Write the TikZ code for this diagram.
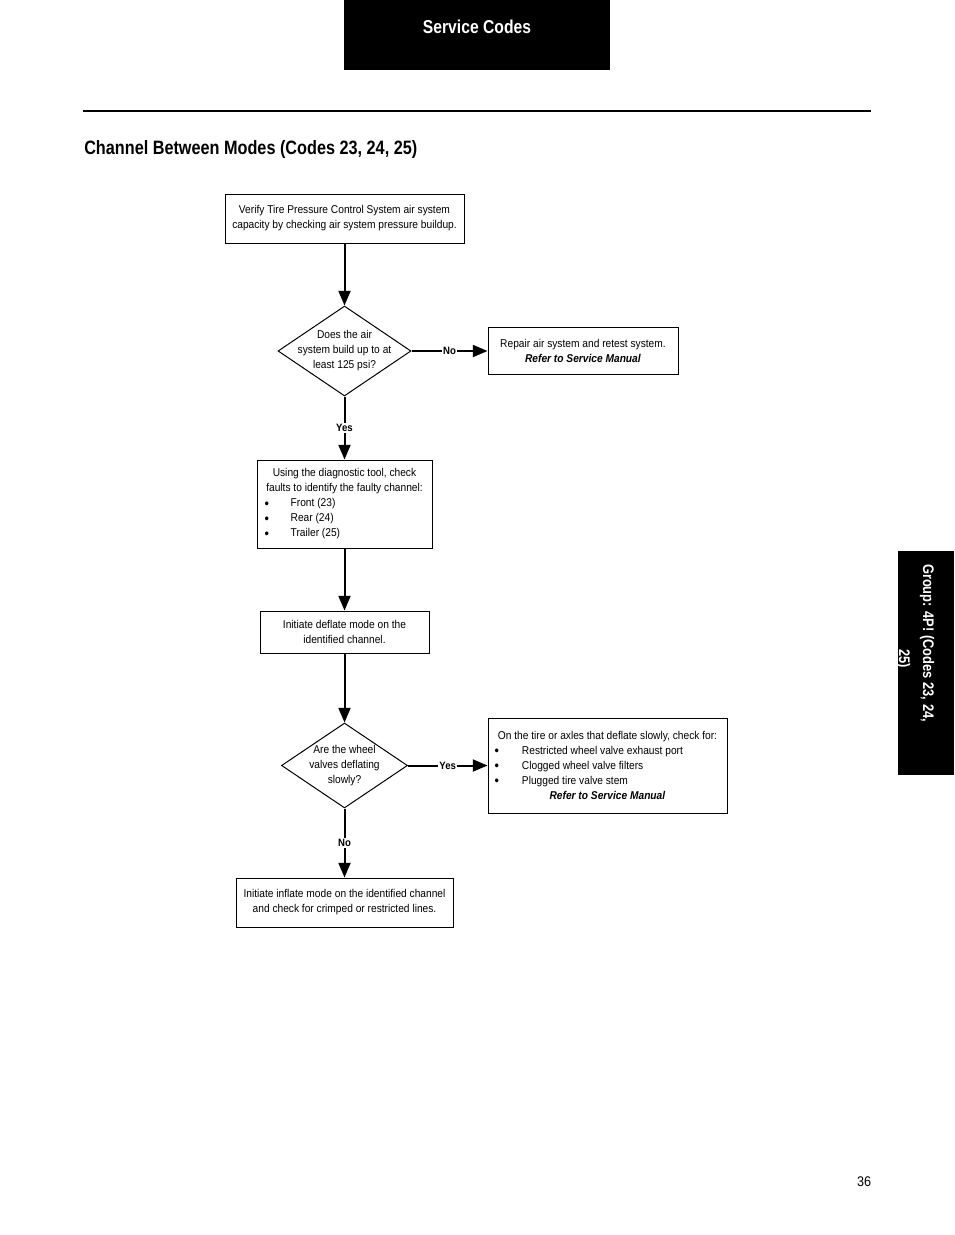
\documentclass[tikz,border=0pt]{standalone}
\usepackage{fontspec}
\setmainfont{Liberation Sans}[FakeStretch=0.9]
\newfontfamily\headfont{Liberation Sans}[FakeStretch=0.84]
\usetikzlibrary{shapes.geometric}
\usetikzlibrary{arrows.meta}

\newcommand{\bulletline}[3]{\makebox[#1][l]{\raisebox{-0.9pt}{\fontsize{10.5}{10}\selectfont\textbullet}\hspace{#2}#3}}

\begin{document}
\begin{tikzpicture}[x=0.75pt,y=-0.75pt,>/.tip={Triangle[length=11pt,width=9pt]},
	box/.style={draw,line width=0.75pt,inner sep=0pt,align=center,font=\fontsize{8.5}{11.25}\selectfont},
	decision/.style={draw,shape=diamond,line width=0.75pt,inner sep=0pt},
	qtext/.style={align=center,font=\fontsize{8.5}{11.25}\selectfont},
	flow/.style={->,line width=1.5pt},
	answer/.style={fill=white,inner sep=1pt,font=\fontsize{8}{9}\selectfont\bfseries}]
	\useasboundingbox (0,0) rectangle (954,1235);

	% page header and tab
	\fill (344,0) rectangle (610,70);
	\node (head) at (477,27) [text=white,font=\headfont\bfseries\fontsize{14}{16}\selectfont] {Service Codes};
	\draw[line width=1.5pt] (83,111) -- (871,111);
	\node (title) at (84,149) [anchor=west,inner sep=0pt,font=\headfont\bfseries\fontsize{14.5}{16}\selectfont] {Channel Between Modes (Codes 23, 24, 25)};
	\fill (898,551) rectangle (954,775);
	\node (tab) at (915,643) [rotate=-90,text=white,align=left,font=\headfont\bfseries\fontsize{11.5}{18}\selectfont] {Group: 4P! (Codes 23, 24,\\\hspace*{64pt}25)};
	\node (page) at (864,1182) [font=\fontsize{10.5}{12}\selectfont] {36};

	% flowchart
	\draw (344.5,218.5) node (verify) [box,minimum width=179.25pt,minimum height=36.75pt] {Verify Tire Pressure Control System air system\\capacity by checking air system pressure buildup.};
	\draw (344.5,351) node (build) [decision,minimum width=99.75pt,minimum height=67.5pt] {};
	\node (buildq) at (build) [qtext] {Does the air\\system build up to at\\least 125 psi?};
	\draw (583,351) node (repair) [box,minimum width=142.5pt,minimum height=35.25pt] {Repair air system and retest system.\\\textbf{\textit{Refer to Service Manual}}};
	\draw (344.5,504) node (faults) [box,minimum width=131.25pt,minimum height=66pt] {Using the diagnostic tool, check\\faults to identify the faulty channel:\\\bulletline{120pt}{16.3pt}{Front (23)}\\\bulletline{120pt}{16.3pt}{Rear (24)}\\\bulletline{120pt}{16.3pt}{Trailer (25)}};
	\draw (344.5,632) node (deflate) [box,minimum width=126.75pt,minimum height=31.5pt] {Initiate deflate mode on the\\identified channel.};
	\draw (344.5,765.5) node (slow) [decision,minimum width=94.5pt,minimum height=63.75pt] {};
	\node (slowq) at (slow) [qtext] {Are the wheel\\valves deflating\\slowly?};
	\draw (607.5,765.5) node (check) [box,minimum width=179.25pt,minimum height=71.25pt] {On the tire or axles that deflate slowly, check for:\\\bulletline{169.5pt}{17.3pt}{Restricted wheel valve exhaust port}\\\bulletline{169.5pt}{17.3pt}{Clogged wheel valve filters}\\\bulletline{169.5pt}{17.3pt}{Plugged tire valve stem}\\\textbf{\textit{Refer to Service Manual}}};
	\draw (344.5,902.5) node (inflate) [box,minimum width=162.75pt,minimum height=36.75pt] {Initiate inflate mode on the identified channel\\and check for crimped or restricted lines.};

	\draw[flow] (verify) -- (build);
	\draw[flow] (build) -- node[answer] {No} (repair);
	\draw[flow] (build) -- node[answer] {Yes} (faults);
	\draw[flow] (faults) -- (deflate);
	\draw[flow] (deflate) -- (slow);
	\draw[flow] (slow) -- node[answer] {Yes} (check);
	\draw[flow] (slow) -- node[answer] {No} (inflate);
\end{tikzpicture}
\end{document}
